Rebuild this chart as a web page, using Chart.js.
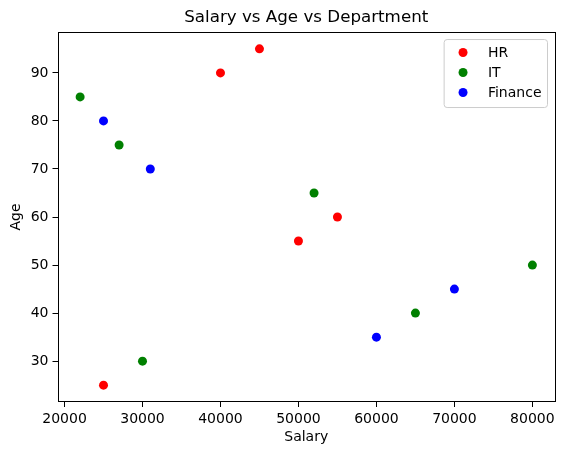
<!DOCTYPE html>
<html>
<head>
<meta charset="utf-8">
<script src="https://cdn.jsdelivr.net/npm/chart.js@4/dist/chart.umd.min.js"></script>
<style>
  html, body { margin: 0; padding: 0; background: #fff; }
  #wrap { width: 562px; height: 455px; }
</style>
</head>
<body>
<div id="wrap"><canvas id="scatterChart" width="562" height="455"></canvas></div>
<script>
// data
const departments = ['HR', 'IT', 'Finance'];
const hrSalary = [25000, 40000, 45000, 50000, 55000];
const hrAge = [25, 90, 95, 55, 60];
const itSalary = [22000, 27000, 30000, 52000, 65000, 80000];
const itAge = [85, 75, 30, 65, 40, 50];
const financeSalary = [25000, 31000, 60000, 70000];
const financeAge = [80, 70, 35, 45];
const xTicks = [20000, 30000, 40000, 50000, 60000, 70000, 80000];
const yTicks = [30, 40, 50, 60, 70, 80, 90];

const colors = ['#ff0000', '#008000', '#0000ff'];
const font = 'DejaVu Sans';

function pts(xs, ys) {
  return xs.map((x, i) => ({ x: x, y: ys[i] }));
}

// matplotlib style box around the axes + legend in the upper right
const frameAndLegend = {
  id: 'frameAndLegend',
  afterDraw(chart) {
    const ctx = chart.ctx;
    const a = chart.chartArea;
    ctx.save();
    ctx.strokeStyle = '#000';
    ctx.lineWidth = 1;
    ctx.strokeRect(Math.round(a.left) + 0.5, Math.round(a.top) + 0.5,
      Math.round(a.right - a.left) - 1, Math.round(a.bottom - a.top) - 1);

    ctx.font = '14px "' + font + '"';
    const sets = chart.data.datasets;
    let textW = 0;
    sets.forEach(d => { textW = Math.max(textW, ctx.measureText(d.label).width); });
    const pad = 5.5, handle = 27.8, textPad = 11, rowH = 20;
    const w = pad + handle + textPad + textW + pad;
    const h = pad * 2 + rowH * sets.length - 3;
    const bx = a.right - 8 - w;
    const by = a.top + 7;
    ctx.beginPath();
    ctx.roundRect(bx + 0.5, by + 0.5, w, h, 3);
    ctx.fillStyle = 'rgba(255,255,255,0.8)';
    ctx.fill();
    ctx.strokeStyle = '#cccccc';
    ctx.stroke();

    ctx.textBaseline = 'middle';
    sets.forEach((d, i) => {
      const cy = by + pad + 8 + i * rowH;
      ctx.beginPath();
      ctx.arc(bx + pad + handle / 2, cy, 4.5, 0, Math.PI * 2);
      ctx.fillStyle = d.backgroundColor;
      ctx.fill();
      ctx.fillStyle = '#000';
      ctx.fillText(d.label, bx + pad + handle + textPad, cy + 1);
    });
    ctx.restore();
  }
};

const axisCommon = {
  type: 'linear',
  grid: { drawOnChartArea: false, drawTicks: true, tickLength: 5, tickColor: '#000', tickWidth: 1 },
  border: { display: false },
  ticks: { color: '#000', font: { family: font, size: 14 }, padding: 4, callback: v => String(v) },
};

new Chart(document.getElementById('scatterChart'), {
  type: 'scatter',
  data: {
    datasets: [
      { label: departments[0], data: pts(hrSalary, hrAge), backgroundColor: colors[0] },
      { label: departments[1], data: pts(itSalary, itAge), backgroundColor: colors[1] },
      { label: departments[2], data: pts(financeSalary, financeAge), backgroundColor: colors[2] }
    ]
  },
  options: {
    responsive: false,
    animation: false,
    layout: { padding: { left: 0, right: 7, top: 0, bottom: 0 } },
    elements: { point: { radius: 4.5, borderWidth: 0, hoverRadius: 4.5 } },
    plugins: {
      legend: { display: false },
      tooltip: { enabled: false },
      title: {
        display: true,
        text: 'Salary vs Age vs Department',
        fullSize: false,
        color: '#000',
        font: { family: font, size: 16.7, weight: 'normal' },
        padding: { top: 8, bottom: 4 }
      }
    },
    scales: {
      x: Object.assign({}, axisCommon, {
        min: 19100, max: 82900,
        afterBuildTicks: s => { s.ticks = xTicks.map(v => ({ value: v })); },
        afterFit: s => { s.height = 53; },
        title: { display: true, text: 'Salary', color: '#000', font: { family: font, size: 14 }, padding: { top: 4, bottom: 9 } }
      }),
      y: Object.assign({}, axisCommon, {
        min: 21.5, max: 98.5,
        afterBuildTicks: s => { s.ticks = yTicks.map(v => ({ value: v })); },
        afterFit: s => { s.width = 57.5; },
        title: { display: true, text: 'Age', color: '#000', font: { family: font, size: 14 }, padding: { top: 8, bottom: 4 } }
      })
    }
  },
  plugins: [frameAndLegend]
});
</script>
</body>
</html>
